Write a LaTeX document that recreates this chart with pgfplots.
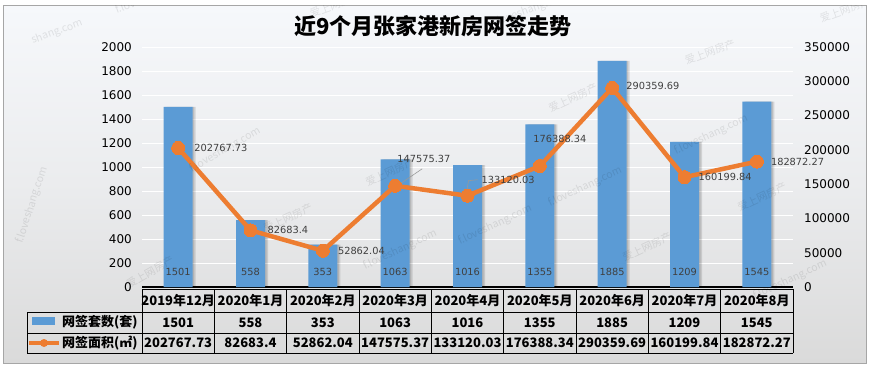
\documentclass[border=0pt]{standalone}
\usepackage{pgfplots}
\pgfplotsset{compat=1.18}
\usepackage{fontspec}
\setmainfont{DejaVu Sans}
\newfontfamily\cjk{Noto Sans CJK SC}
\newfontfamily\dv{DejaVu Sans}
\definecolor{barblue}{HTML}{5B9BD5}
\definecolor{lineorange}{HTML}{ED7D31}
\definecolor{bgtop}{HTML}{F6F8FB}
\definecolor{bgbot}{HTML}{DADADA}
\definecolor{lbl}{HTML}{404040}
\begin{document}
\begin{tikzpicture}[x=1pt,y=1pt]
\useasboundingbox (0,0) rectangle (870,368);
% background
\fill[white] (0,0) rectangle (870,368);
\shade[top color=bgtop, bottom color=bgbot, middle color=bgtop!60!bgbot] (3,5) rectangle (866,363);
\draw[black!35, line width=0.8pt] (3,5) rectangle (866,363);
% title
\node[font=\cjk\bfseries\fontsize{22}{22}\selectfont, text=black] at (433,342) {近9个月张家港新房网签走势};

\begin{axis}[
  at={(142pt,81pt)}, anchor=south west, scale only axis,
  width=651pt, height=240pt,
  xmin=-0.5, xmax=8.5, ymin=0, ymax=2000,
  axis x line*=bottom, axis y line*=left,
  x axis line style={black, line width=1.2pt, -},
  y axis line style={draw=none},
  xtick={0,...,8},
  xticklabels={2019年12月,2020年1月,2020年2月,2020年3月,2020年4月,2020年5月,2020年6月,2020年7月,2020年8月},
  xticklabel style={font=\cjk\bfseries\fontsize{13}{13}\selectfont, anchor=center, yshift=-13.5pt, text=black},
  major tick length=0pt,
  ytick={0,200,...,2000},
  yticklabel style={font=\dv\fontsize{12}{12}\selectfont, anchor=east, inner sep=0pt, xshift=-10pt, text=black,
    /pgf/number format/fixed, /pgf/number format/1000 sep={}},
  /pgf/number format/assume math mode=true,
  ymajorgrids, grid style={white, line width=1pt},
  clip=false,
]
\addplot[ybar, bar width=29pt, bar shift=3pt, fill=black, fill opacity=0.12, draw=none] coordinates {(0,1501) (1,558) (2,353) (3,1063) (4,1016) (5,1355) (6,1885) (7,1209) (8,1545)};
\addplot[ybar, bar width=29pt, bar shift=1.5pt, fill=black, fill opacity=0.10, draw=none] coordinates {(0,1501) (1,558) (2,353) (3,1063) (4,1016) (5,1355) (6,1885) (7,1209) (8,1545)};
\addplot[ybar, bar width=29pt, bar shift=0pt, fill=barblue, draw=none] coordinates {(0,1501) (1,558) (2,353) (3,1063) (4,1016) (5,1355) (6,1885) (7,1209) (8,1545)};
\foreach \i/\v in {0/1501,1/558,2/353,3/1063,4/1016,5/1355,6/1885,7/1209,8/1545}{
  \edef\temp{\noexpand\node[font=\noexpand\dv\noexpand\fontsize{9.8}{9.8}\noexpand\selectfont, text=lbl] at (axis cs:\i,125) {\v};}
  \temp
}
\end{axis}

\begin{axis}[
  at={(142pt,81pt)}, anchor=south west, scale only axis,
  width=651pt, height=240pt,
  xmin=-0.5, xmax=8.5, ymin=0, ymax=350000,
  axis x line=none, axis y line*=right,
  y axis line style={draw=none},
  major tick length=0pt,
  ytick={0,50000,...,350000},
  scaled y ticks=false,
  yticklabel style={font=\dv\fontsize{12}{12}\selectfont, anchor=west, inner sep=0pt, xshift=11pt, text=black,
    /pgf/number format/fixed, /pgf/number format/1000 sep={}},
  /pgf/number format/assume math mode=true,
  clip=false,
]
\addplot[lineorange, line width=4.5pt, line join=round, mark=*, mark size=6.5pt,
  mark options={fill=lineorange, draw=lineorange, line width=0pt}]
  coordinates {(0,202767.73) (1,82683.4) (2,52862.04) (3,147575.37) (4,133120.03) (5,176388.34) (6,290359.69) (7,160199.84) (8,182872.27)};
\tikzset{dl/.style={font=\dv\fontsize{9.8}{9.8}\selectfont, text=lbl, inner sep=0pt}}
\node[dl, anchor=west] at ([xshift=16pt]axis cs:0,202767.73) {202767.73};
\node[dl, anchor=west] at ([xshift=17pt]axis cs:1,82683.4) {82683.4};
\node[dl, anchor=west] at ([xshift=15pt]axis cs:2,52862.04) {52862.04};
\draw[black!40, line width=0.6pt] ([xshift=5pt,yshift=2pt]axis cs:3,147575.37) -- ([xshift=27pt,yshift=17pt]axis cs:3,147575.37);
\node[dl, anchor=west] at ([xshift=2pt,yshift=27pt]axis cs:3,147575.37) {147575.37};
\draw[black!40, line width=0.6pt] ([xshift=-1pt,yshift=3pt]axis cs:4,133120.03) -- ([xshift=1pt,yshift=15pt]axis cs:4,133120.03) -- ([xshift=10pt,yshift=16pt]axis cs:4,133120.03);
\node[dl, anchor=west] at ([xshift=14pt,yshift=16pt]axis cs:4,133120.03) {133120.03};
\node[dl, anchor=center] at ([xshift=20pt,yshift=27pt]axis cs:5,176388.34) {176388.34};
\node[dl, anchor=west] at ([xshift=14pt,yshift=2pt]axis cs:6,290359.69) {290359.69};
\node[dl, anchor=west] at ([xshift=14pt]axis cs:7,160199.84) {160199.84};
\node[dl, anchor=west] at ([xshift=14pt]axis cs:8,182872.27) {182872.27};
\end{axis}

% data table
\def\cw{72.33}
\begin{scope}[line width=0.8pt, black]
  \draw (142,79) -- (793,79);
  \draw (27,56) -- (793,56);
  \draw (27,35) -- (793,35);
  \draw (27,15) -- (793,15);
  \draw (27,56) -- (27,15);
  \foreach \k in {0,...,9}{ \draw ({142+\k*\cw},79) -- ({142+\k*\cw},15); }
\end{scope}
\foreach \v [count=\k from 0] in {1501,558,353,1063,1016,1355,1885,1209,1545}{
  \node[font=\cjk\bfseries\fontsize{13}{13}\selectfont, inner sep=0pt] at ({142+(\k+0.5)*\cw},45.5) {\v};
}
\foreach \v [count=\k from 0] in {202767.73,82683.4,52862.04,147575.37,133120.03,176388.34,290359.69,160199.84,182872.27}{
  \node[font=\cjk\bfseries\fontsize{13}{13}\selectfont, inner sep=0pt] at ({142+(\k+0.5)*\cw},25) {\v};
}
% legend keys
\fill[barblue] (32,43) rectangle (55,51);
\draw[lineorange, line width=3.5pt] (29,25) -- (59,25);
\fill[lineorange] (44,25) circle (4pt);
\node[font=\cjk\bfseries\fontsize{13}{13}\selectfont, anchor=west, inner sep=0pt] at (62,45.5) {网签套数(套)};
\node[font=\cjk\bfseries\fontsize{13}{13}\selectfont, anchor=west, inner sep=0pt] at (62,25) {网签面积(㎡)};
% faint watermarks (image px -> y flipped)
\begin{scope}
  \clip (3,5) rectangle (866,363);
  \tikzset{wm/.style={text=black, opacity=0.09, font=\cjk\fontsize{10.5}{10.5}\selectfont, inner sep=0pt}}
  \node[wm, rotate=20] at (57,336) {shang.com};
  \node[wm, rotate=20] at (125,362) {f.lov};
  \node[wm, rotate=20] at (530,358) {f.loveshang.com};
  \node[wm, rotate=20] at (335,363) {爱上网房产};
  \node[wm, rotate=20] at (710,316) {爱上网房产};
  \node[wm, rotate=20] at (845,358) {爱上网房产};
  \node[wm, rotate=72] at (32,163) {f.loveshang.com};
  \node[wm, rotate=30] at (225,218) {f.loveshang.com};
  \node[wm, rotate=30] at (150,96) {爱上网房产};
  \node[wm, rotate=25] at (390,196) {爱上网房产};
  \node[wm, rotate=25] at (288,150) {爱上网房产};
  \node[wm, rotate=25] at (400,118) {f.loveshang.com};
  \node[wm, rotate=25] at (573,270) {爱上网房产};
  \node[wm, rotate=25] at (711,233) {f.loveshang.com};
  \node[wm, rotate=25] at (585,181) {f.loveshang.com};
  \node[wm, rotate=25] at (762,171) {爱上网房产};
  \node[wm, rotate=25] at (647,121) {爱上网房产};
  \node[wm, rotate=25] at (790,88) {f.loveshang.com};
  \node[wm, rotate=25] at (495,143) {f.loveshang.com};
\end{scope}
\end{tikzpicture}
\end{document}
